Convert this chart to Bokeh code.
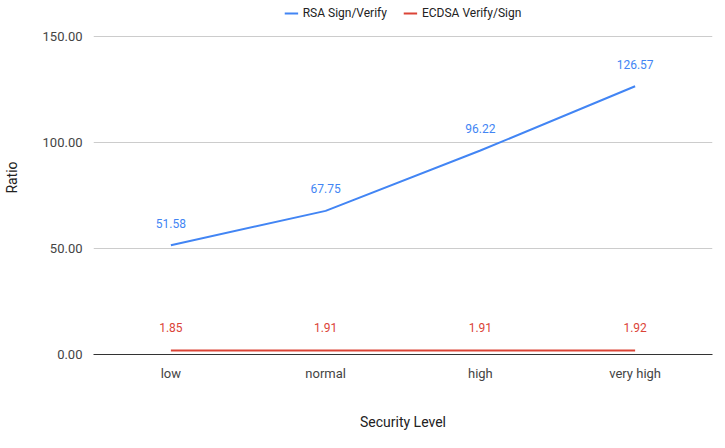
from bokeh.plotting import figure
from bokeh.embed import file_html
from bokeh.resources import INLINE
from bokeh.models import ColumnDataSource, Legend, LegendItem, NumeralTickFormatter

levels = ["low", "normal", "high", "very high"]
rsa = [51.58, 67.75, 96.22, 126.57]
ecdsa = [1.85, 1.91, 1.91, 1.92]

blue = "#4285f4"
red = "#db4437"
font = "Roboto"

from bokeh.core.properties import value

p = figure(x_range=levels, y_range=(0, 167), width=714, height=432,
           output_backend="svg", toolbar_location=None, tools="",
           min_border_left=92, min_border_right=2, min_border_top=0, min_border_bottom=71)
p.outline_line_color = None
p.x_range.range_padding = 0.0

src = ColumnDataSource(dict(x=levels, rsa=rsa, ecdsa=ecdsa,
                            rsa_t=[f"{v:.2f}" for v in rsa],
                            ecdsa_t=[f"{v:.2f}" for v in ecdsa]))
r1 = p.line("x", "rsa", source=src, line_color=blue, line_width=2)
r2 = p.line("x", "ecdsa", source=src, line_color=red, line_width=2)
p.text("x", "rsa", text="rsa_t", source=src, text_color=blue, text_font=value(font),
       text_font_size="12px", text_align="center", text_baseline="middle", y_offset=-22)
p.text("x", "ecdsa", text="ecdsa_t", source=src, text_color=red, text_font=value(font),
       text_font_size="12px", text_align="center", text_baseline="middle", y_offset=-23)

p.yaxis.ticker = [0, 50, 100, 150]
p.yaxis.formatter = NumeralTickFormatter(format="0.00")
p.yaxis.axis_line_color = None
p.yaxis.major_tick_line_color = None
p.yaxis.minor_tick_line_color = None
p.xaxis.major_tick_line_color = None
p.xaxis.axis_line_color = "#333333"
p.axis.major_label_text_font = font
p.axis.major_label_text_font_size = "13px"
p.axis.major_label_text_color = "#444444"
p.axis.axis_label_text_font = font
p.axis.axis_label_text_font_style = "normal"
p.axis.axis_label_text_font_size = "14px"
p.axis.axis_label_text_color = "#222222"
p.xaxis.axis_label = "Security Level"
p.yaxis.axis_label = "Ratio"
p.xaxis.axis_label_standoff = 30
p.yaxis.axis_label_standoff = 20
p.xgrid.grid_line_color = None
p.ygrid.grid_line_color = "#cccccc"

legend = Legend(items=[LegendItem(label="RSA Sign/Verify", renderers=[r1]),
                       LegendItem(label="ECDSA Verify/Sign", renderers=[r2])],
                orientation="horizontal", location="top_center",
                label_text_font=font, label_text_font_size="12px",
                label_text_color="#222222", border_line_color=None,
                background_fill_alpha=0, glyph_width=14, glyph_height=14,
                spacing=16, padding=0, margin=6)
p.add_layout(legend, "center")

open("out.html", "w").write(file_html(p, INLINE))
